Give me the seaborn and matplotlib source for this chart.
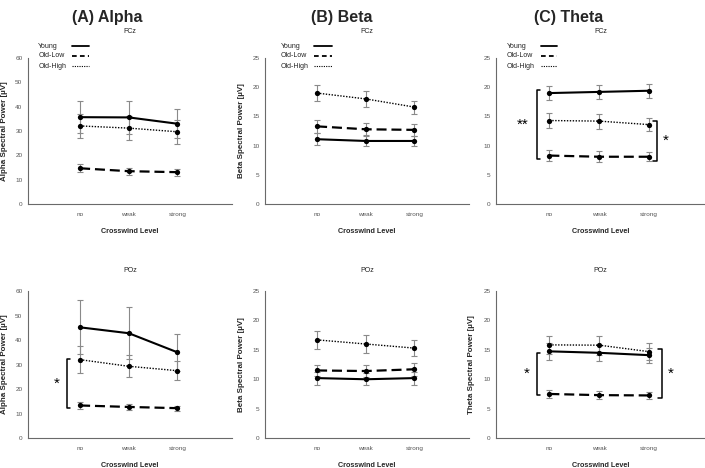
import numpy as np
import matplotlib
matplotlib.use('Agg')
import matplotlib.pyplot as plt
import seaborn as sns
import pandas as pd

levels = ['no', 'weak', 'strong']
groups = ['Young', 'Old-Low', 'Old-High']

# mean spectral power per group, one list per crosswind level
alpha_fcz_mean = {'Young': [35.7, 35.6, 33.0], 'Old-Low': [14.7, 13.5, 13.1], 'Old-High': [32.1, 31.2, 29.7]}
alpha_fcz_err = {'Young': [6.6, 6.8, 6.0], 'Old-Low': [1.6, 1.5, 1.5], 'Old-High': [5.0, 5.0, 4.9]}

beta_fcz_mean = {'Young': [11.1, 10.8, 10.8], 'Old-Low': [13.3, 12.8, 12.7], 'Old-High': [19.0, 18.0, 16.6]}
beta_fcz_err = {'Young': [1.0, 0.9, 0.9], 'Old-Low': [1.1, 1.0, 1.0], 'Old-High': [1.4, 1.4, 1.1]}

theta_fcz_mean = {'Young': [19.0, 19.2, 19.4], 'Old-Low': [8.3, 8.1, 8.1], 'Old-High': [14.3, 14.2, 13.6]}
theta_fcz_err = {'Young': [1.2, 1.2, 1.2], 'Old-Low': [0.9, 0.9, 0.8], 'Old-High': [1.3, 1.3, 1.1]}

alpha_poz_mean = {'Young': [45.2, 42.8, 35.0], 'Old-Low': [13.3, 12.7, 12.2], 'Old-High': [32.0, 29.3, 27.5]}
alpha_poz_err = {'Young': [11.0, 10.6, 7.5], 'Old-Low': [1.4, 1.2, 1.0], 'Old-High': [5.4, 4.5, 3.8]}

beta_poz_mean = {'Young': [10.2, 10.0, 10.2], 'Old-Low': [11.5, 11.4, 11.7], 'Old-High': [16.7, 16.0, 15.3]}
beta_poz_err = {'Young': [1.1, 1.0, 1.1], 'Old-Low': [1.0, 1.0, 1.1], 'Old-High': [1.5, 1.5, 1.4]}

theta_poz_mean = {'Young': [14.75, 14.5, 14.1], 'Old-Low': [7.5, 7.3, 7.25], 'Old-High': [15.85, 15.8, 14.7]}
theta_poz_err = {'Young': [1.4, 1.4, 1.3], 'Old-Low': [0.65, 0.65, 0.65], 'Old-High': [1.5, 1.6, 1.4]}

band_titles = ['(A) Alpha', '(B) Beta', '(C) Theta']
band_names = ['Alpha', 'Beta', 'Theta']
sites = ['FCz', 'POz']
y_max = [60, 25, 25]

# significance brackets: (row, col, x, y_low, y_high, label)
brackets = [
    (1, 0, -0.27, 12.3, 32.3, '*'),
    (0, 2, -0.25, 7.7, 19.5, '**'),
    (0, 2, 2.15, 7.4, 14.3, '*'),
    (1, 2, -0.25, 7.3, 14.5, '*'),
    (1, 2, 2.25, 6.8, 15.1, '*'),
]

means = [[alpha_fcz_mean, beta_fcz_mean, theta_fcz_mean],
         [alpha_poz_mean, beta_poz_mean, theta_poz_mean]]
errs = [[alpha_fcz_err, beta_fcz_err, theta_fcz_err],
        [alpha_poz_err, beta_poz_err, theta_poz_err]]

sns.set_style('white')
plt.rcParams['font.family'] = ['Liberation Sans', 'DejaVu Sans']

line_kw = {
    'Young': dict(linewidth=1.5),
    'Old-Low': dict(linewidth=1.6, dashes=(4.5, 2.2)),
    'Old-High': dict(linewidth=1.0, dashes=(1, 1.1)),
}
legend_kw = {
    'Young': dict(linewidth=1.3),
    'Old-Low': dict(linewidth=1.3, dashes=(2.6, 1.8)),
    'Old-High': dict(linewidth=0.8, dashes=(1, 1.1)),
}

fig = plt.figure(figsize=(7.05, 4.68), dpi=100)

lefts = [28, 265, 496]
widths = [204, 204, 209]
row_bottom = [0.564, 0.064]
row_height = [0.312, 0.314]

# legend placement inside each top panel (axes fraction)
legend_text_x = [0.05, 0.078, 0.05]
legend_line_x = [(0.215, 0.30), (0.24, 0.33), (0.215, 0.29)]
legend_rows_y = [1.082, 1.014, 0.945]

grey = '#555555'

for r in range(2):
    for c in range(3):
        ax = fig.add_axes([lefts[c] / 705, row_bottom[r], widths[c] / 705, row_height[r]])
        pos = np.arange(len(levels))

        rows = []
        for g in groups:
            for i, lv in enumerate(levels):
                rows.append({'level': lv, 'pos': pos[i], 'group': g,
                             'power': means[r][c][g][i], 'err': errs[r][c][g][i]})
        df = pd.DataFrame(rows)

        for g in groups:
            d = df[df['group'] == g]
            ax.errorbar(d['pos'], d['power'], yerr=d['err'], fmt='none',
                        ecolor='#8a8a8a', elinewidth=0.8, capsize=2,
                        capthick=0.8, zorder=1)
        for g in groups:
            d = df[df['group'] == g]
            sns.lineplot(data=d, x='pos', y='power', color='black',
                         marker='o', markersize=3.8, markeredgewidth=0,
                         errorbar=None, ax=ax, zorder=3, **line_kw[g])

        ax.set_xlim(-1.07, 3.12)
        ax.set_ylim(0, y_max[c])
        ax.set_xticks(pos)
        ax.set_xticklabels(levels)
        ax.set_yticks(np.arange(0, y_max[c] + 1, 10 if y_max[c] == 60 else 5))
        ax.tick_params(axis='both', labelsize=4.6, colors=grey, length=2,
                       width=0.6, pad=2, labelcolor=grey)
        ax.tick_params(axis='x', pad=4)
        sns.despine(ax=ax)
        for s in ['left', 'bottom']:
            ax.spines[s].set_color('#6a6a6a')
            ax.spines[s].set_linewidth(0.8)

        ax.set_xlabel('Crosswind Level', fontsize=5.2, fontweight='bold')
        ax.xaxis.set_label_coords(0.5, -0.165)
        if not (r == 0 and c == 2):
            ax.set_ylabel(f'{band_names[c]} Spectral Power [µV]', fontsize=5.8,
                          fontweight='bold')
        else:
            ax.set_ylabel('')
        ax.yaxis.set_label_coords(-0.1, 0.5)

        ax.set_title(sites[r], fontsize=5, pad=18 if r == 0 else 14, color='#222222')

        if r == 0:
            x0, x1 = legend_line_x[c]
            for g, yy in zip(groups, legend_rows_y):
                ax.text(legend_text_x[c], yy, g, fontsize=5, ha='left', va='center',
                        transform=ax.transAxes, color='#222222')
                ax.plot([x0, x1], [yy, yy], color='black', transform=ax.transAxes,
                        clip_on=False, **legend_kw[g])

        for br in brackets:
            if br[0] == r and br[1] == c:
                _, _, bx, ylo, yhi, lab = br
                arm = 0.07 if bx < 1 else -0.07
                ax.plot([bx + arm, bx, bx, bx + arm], [ylo, ylo, yhi, yhi],
                        color='black', linewidth=1.1, zorder=4)
                tx = bx - 0.2 if bx < 1 else bx + 0.18
                if lab == '**':
                    tx -= 0.08
                ax.text(tx, (ylo + yhi) / 2, lab, fontsize=11, ha='center',
                        va='center', color='black')

for c in range(3):
    cx = [107, 342, 569][c] / 705
    fig.text(cx, 0.962, band_titles[c], ha='center', va='center',
             fontsize=11.5, fontweight='bold')

fig.savefig('out.png', dpi=100)
